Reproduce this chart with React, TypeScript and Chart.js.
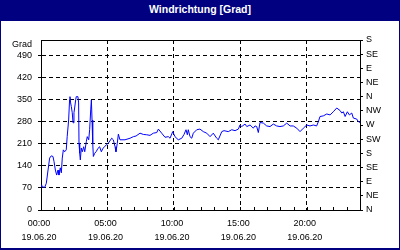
import React, { useEffect, useRef } from 'react';
import { Chart, registerables } from 'chart.js';

Chart.register(...registerables);

const titleText = 'Windrichtung [Grad]';
const yUnitLabel = 'Grad';
const dateLabel = '19.06.20';
const timeTicks = [0, 5, 10, 15, 20];
const timeLabels = ['00:00', '05:00', '10:00', '15:00', '20:00'];
const degreeTicks = [0, 70, 140, 210, 280, 350, 420, 490];
const compassTicks = [0, 45, 90, 135, 180, 225, 270, 315, 360, 405, 450, 495, 540];
const compassLabels = ['N', 'NE', 'E', 'SE', 'S', 'SW', 'W', 'NW', 'N', 'NE', 'E', 'SE', 'S'];

const hours = [
  0.0, 0.05, 0.28, 0.4, 0.53, 0.65, 0.77, 0.9, 0.98, 1.08, 1.18, 1.28, 1.35, 1.45, 1.53, 1.6, 1.68, 1.78, 1.9, 1.97,
  2.08, 2.15, 2.18, 2.23, 2.28, 2.35, 2.41, 2.48, 2.53, 2.61, 2.65, 2.78, 2.83, 2.86, 2.91, 2.96, 3.03, 3.11, 3.21, 3.29,
  3.41, 3.48, 3.59, 3.66, 3.74, 3.79, 3.84, 3.89, 3.94, 4.04, 4.16, 4.29, 4.41, 4.54, 4.66, 4.79, 4.91, 5.06, 5.32, 5.44,
  5.57, 5.64, 5.74, 5.82, 5.94, 6.32, 6.7, 6.95, 7.15, 7.45, 7.7, 7.95, 8.2, 8.45, 8.71, 8.83, 9.08, 9.33, 9.58, 9.71,
  9.91, 10.08, 10.33, 10.59, 10.76, 10.91, 11.01, 11.08, 11.21, 11.34, 11.46, 11.72, 11.96, 12.21, 12.47, 12.72, 12.96,
  13.22, 13.34, 13.6, 13.77, 14.09, 14.35, 14.6, 14.85, 14.97, 15.1, 15.35, 15.48, 15.73, 15.97, 16.1, 16.23, 16.35,
  16.48, 16.73, 16.98, 17.23, 17.48, 17.73, 17.98, 18.23, 18.49, 18.74, 18.98, 19.24, 19.49, 19.74, 19.99, 20.24, 20.49,
  20.74, 20.87, 20.99, 21.24, 21.5, 21.75, 21.99, 22.25, 22.5, 22.63, 22.75, 22.88, 23.05, 23.2, 23.38, 23.5, 23.75,
  23.87, 24.0,
];

const degrees = [
  80, 74, 72, 85, 127, 165, 172, 170, 154, 127, 111, 127, 111, 134, 118, 165, 191, 185, 191, 233,
  286, 350, 360, 340, 329, 309, 277, 309, 324, 350, 360, 360, 340, 213, 181, 159, 197, 185, 201, 185,
  217, 233, 223, 255, 318, 350, 286, 213, 170, 180, 186, 196, 201, 185, 196, 201, 207, 212, 228, 223,
  201, 185, 212, 241, 223, 223, 228, 233, 235, 244, 240, 239, 237, 244, 246, 257, 244, 231, 233, 228,
  249, 233, 223, 228, 240, 255, 239, 255, 233, 228, 244, 255, 257, 249, 244, 233, 244,
  228, 223, 249, 252, 249, 255, 252, 257, 270, 265, 273, 265, 270, 260, 267, 265, 246,
  278, 276, 267, 265, 273, 267, 265, 267, 276, 267, 267, 260, 249, 260, 270, 267, 270,
  267, 281, 297, 299, 305, 302, 312, 324, 316, 308, 312, 297, 312, 302, 308, 292, 289,
  281, 278,
];

const FONT = '"Liberation Sans", Arial, sans-serif';

const framePlugin = {
  id: 'frameExtras',
  afterDraw(chart: any) {
    const { ctx, chartArea } = chart;
    const xs = chart.scales.x;
    ctx.save();
    ctx.strokeStyle = '#000';
    ctx.lineWidth = 1;
    ctx.setLineDash([]);
    ctx.beginPath();
    const top = Math.round(chartArea.top) + 0.5;
    ctx.moveTo(chartArea.left, top);
    ctx.lineTo(chartArea.right, top);
    const b = Math.round(chartArea.bottom) + 0.5;
    for (let h = 0; h <= 24; h++) {
      const px = Math.round(xs.getPixelForValue(h)) + 0.5;
      ctx.moveTo(px, b);
      ctx.lineTo(px, b - 3.5);
    }
    ctx.stroke();
    ctx.fillStyle = '#000';
    ctx.font = `9px ${FONT}`;
    ctx.textAlign = 'right';
    ctx.textBaseline = 'middle';
    ctx.fillText(yUnitLabel, chartArea.left - 9, chartArea.top + 5);
    ctx.restore();
  },
};

export default function App() {
  const ref = useRef<HTMLCanvasElement>(null);
  useEffect(() => {
    const points = hours.map((h, i) => ({ x: h, y: degrees[i] }));
    const tickFont = { family: FONT, size: 9 };
    const chart = new Chart(ref.current as HTMLCanvasElement, {
      type: 'line',
      data: {
        datasets: [
          {
            data: points,
            borderColor: '#0000ff',
            borderWidth: 1,
            pointRadius: 0,
            tension: 0,
            fill: false,
            xAxisID: 'x',
            yAxisID: 'y',
          },
        ],
      },
      options: {
        animation: false,
        responsive: false,
        devicePixelRatio: 1,
        layout: { padding: { top: 19, left: 0, right: 0, bottom: 0 } },
        plugins: { legend: { display: false }, tooltip: { enabled: false }, title: { display: false } },
        scales: {
          x: {
            type: 'linear',
            position: 'bottom',
            min: 0,
            max: 24,
            afterBuildTicks: (s: any) => {
              s.ticks = timeTicks.map((v) => ({ value: v }));
            },
            afterFit: (s: any) => {
              s.height = 38;
            },
            grid: { color: '#000', lineWidth: 1, drawTicks: false },
            border: { color: '#000', width: 1, dash: [4, 3] },
            ticks: {
              padding: 7,
              labelOffset: -2,
              color: '#000',
              maxRotation: 0,
              autoSkip: false,
              font: { ...tickFont, lineHeight: 14 / 9 },
              callback: (v: any) => [timeLabels[timeTicks.indexOf(Number(v))] ?? '', dateLabel],
            },
          },
          y: {
            position: 'left',
            min: 0,
            max: 540,
            afterBuildTicks: (s: any) => {
              s.ticks = degreeTicks.map((v) => ({ value: v }));
            },
            afterFit: (s: any) => {
              s.width = 40;
            },
            grid: { color: '#000', lineWidth: 1, tickLength: 3, tickColor: '#000' },
            border: { color: '#000', width: 1, dash: [4, 3] },
            ticks: { padding: 6, color: '#000', font: tickFont, callback: (v: any) => String(v) },
          },
          y2: {
            position: 'right',
            min: 0,
            max: 540,
            afterBuildTicks: (s: any) => {
              s.ticks = compassTicks.map((v) => ({ value: v }));
            },
            afterFit: (s: any) => {
              s.width = 39;
            },
            grid: { drawOnChartArea: false, tickLength: 3, tickColor: '#000', color: '#000' },
            border: { color: '#000', width: 1 },
            ticks: {
              padding: 3,
              color: '#000',
              font: tickFont,
              callback: (v: any) => compassLabels[compassTicks.indexOf(Number(v))] ?? '',
            },
          },
        },
      },
      plugins: [framePlugin],
    } as any);
    return () => chart.destroy();
  }, []);

  return (
    <div
      style={{
        position: 'fixed',
        left: 0,
        top: 0,
        width: 400,
        height: 250,
        boxSizing: 'border-box',
        background: '#fff',
        borderLeft: '1px solid #000080',
        borderRight: '1px solid #000080',
        borderBottom: '2px solid #000080',
        overflow: 'hidden',
      }}
    >
      <div
        style={{
          position: 'absolute',
          left: -1,
          top: 0,
          width: 400,
          height: 21,
          background: '#000080',
          color: '#fff',
          textAlign: 'center',
          fontFamily: FONT,
          fontWeight: 'bold',
          fontSize: '10.5px',
          lineHeight: '19px',
        }}
      >
        {titleText}
      </div>
      <canvas
        ref={ref}
        width={398}
        height={227}
        style={{ position: 'absolute', left: 0, top: 21, width: 398, height: 227 }}
      />
    </div>
  );
}
